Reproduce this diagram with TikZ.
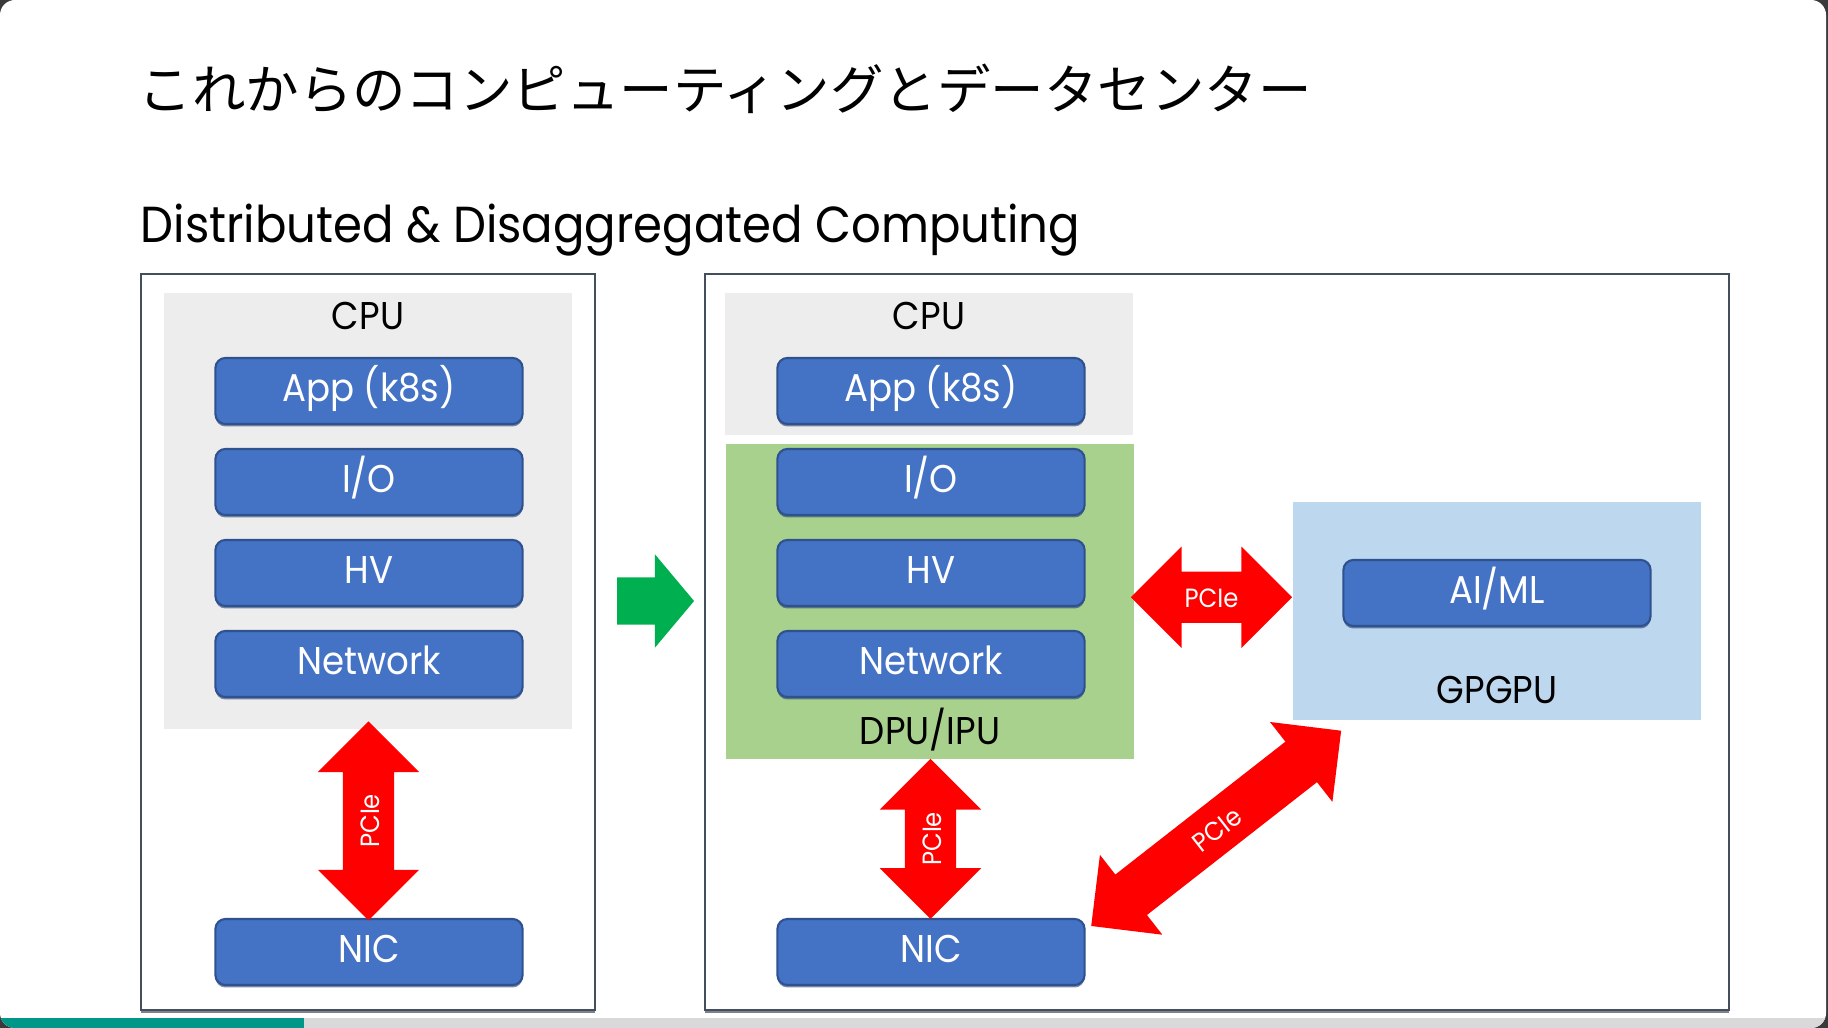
\documentclass[tikz,border=0pt]{standalone}
\usepackage{fontspec}
\setmainfont{Poppins}[FakeStretch=0.92]
\newfontfamily\jpfont{Noto Sans CJK JP}
\usepackage{tikz}
\usetikzlibrary{shapes,arrows,positioning,calc,shadows}
\usepackage{xcolor}
\definecolor{slidedark}{RGB}{58,58,58}
\definecolor{boxblue}{RGB}{68,114,196}
\definecolor{boxblueline}{RGB}{47,82,143}
\definecolor{cpugray}{RGB}{237,237,237}
\definecolor{dpugreen}{RGB}{169,209,142}
\definecolor{gpublue}{RGB}{189,215,238}
\definecolor{pcired}{RGB}{255,0,0}
\definecolor{movegreen}{RGB}{0,176,80}
\definecolor{framegray}{RGB}{68,78,92}
\definecolor{barteal}{RGB}{0,150,136}
\definecolor{bargray}{RGB}{217,217,217}
\tikzstyle{hostframe} = [rectangle, draw=framegray, fill=white, line width=0.6pt, minimum height=7.36cm, inner sep=0pt, drop shadow={shadow xshift=0pt, shadow yshift=-0.9pt, fill=framegray, opacity=0.7}]
\tikzstyle{chipzone} = [rectangle, minimum width=4.07cm, inner sep=0pt]
\tikzstyle{layerbox} = [rectangle, rounded corners=0.1cm, minimum width=3.07cm, minimum height=0.66cm, draw=boxblueline, line width=0.6pt, fill=boxblue, text=white, text height=9pt, text depth=2.8pt, font=\fontsize{11}{13}\selectfont, drop shadow={shadow xshift=0pt, shadow yshift=-0.7pt, fill=boxblueline!80!black, opacity=0.6}]
\tikzstyle{zonelabel} = [font=\fontsize{11}{13}\selectfont]
\tikzstyle{pcielink} = [double arrow, fill=pcired, text=white, double arrow head extend=0.25cm, minimum width=1cm, inner xsep=0pt, inner ysep=4.1pt, text height=6pt, text depth=0pt, font=\fontsize{7.5}{9}\selectfont]

\begin{document}
\begin{tikzpicture}[x=0.01cm, y=-0.01cm]
% slide background
\fill[slidedark] (0,0) rectangle (1828,1028);
\fill[white, rounded corners=0.15cm] (0,0) rectangle (1826,1028);
\begin{scope}
\clip[rounded corners=0.15cm] (0,0) rectangle (1826,1028);
\fill[barteal] (0,1018) rectangle (304,1028);
\fill[bargray] (304,1018) rectangle (1826,1028);
\end{scope}

\node[anchor=west, inner sep=0pt, font=\jpfont\fontsize{15.2}{18}\selectfont] (title) at (138,89) {これからのコンピューティングとデータセンター};
\node[anchor=base west, inner sep=0pt, font=\fontsize{14.4}{17}\selectfont] (subtitle) at (140,243) {Distributed \& Disaggregated Computing};

% today
\node[hostframe, minimum width=4.54cm] (leftframe) at (368,642) {};
\node[chipzone, fill=cpugray, minimum height=4.36cm] (cpuL) at (368,511) {};
\node[zonelabel] at ($(cpuL.center)+(0,-195)$) {CPU};
\node[layerbox] (appL) at ($(cpuL.center)+(1,-120)$) {App (k8s)};
\node[layerbox] (ioL) at ($(cpuL.center)+(1,-29)$) {I/O};
\node[layerbox] (hvL) at ($(cpuL.center)+(1,62)$) {HV};
\node[layerbox] (netL) at ($(cpuL.center)+(1,153)$) {Network};
\node[layerbox] (nicL) at ($(leftframe.center)+(1,310)$) {NIC};
\node[pcielink, minimum height=1.99cm, rotate=90] (pcieL) at ($(cpuL.south)!0.5!(nicL.north)+(0,-3)$) {PCIe};

\node[single arrow, fill=movegreen, single arrow tip angle=100, single arrow head extend=0.23cm, minimum height=0.77cm, minimum width=0.92cm, inner xsep=0pt, inner ysep=0.23cm, anchor=tip] (shift) at (695,601) {};

% disaggregated
\node[hostframe, minimum width=10.24cm] (rightframe) at (1217,642) {};
\node[chipzone, fill=cpugray, minimum height=1.42cm] (cpuR) at (929,364) {};
\node[zonelabel] at ($(cpuR.center)+(0,-48)$) {CPU};
\node[layerbox] (appR) at ($(cpuR.center)+(2,27)$) {App (k8s)};
\node[chipzone, fill=dpugreen, minimum height=3.15cm] (dpu) at (930,601.5) {};
\node[layerbox] (ioR) at ($(dpu.center)+(1,-119.5)$) {I/O};
\node[layerbox] (hvR) at ($(dpu.center)+(1,-28.5)$) {HV};
\node[layerbox] (netR) at ($(dpu.center)+(1,62.5)$) {Network};
\node[zonelabel] at ($(dpu.south)+(0,-30)$) {DPU/IPU};
\node[layerbox] (nicR) at ($(rightframe.center)+(-286,310)$) {NIC};

\node[chipzone, fill=gpublue, minimum height=2.18cm] (gpu) at (1497,611) {};
\node[layerbox] (aiml) at ($(gpu.center)+(0,-18)$) {AI/ML};
\node[zonelabel] at ($(gpu.center)+(0,79)$) {GPGPU};

\node[pcielink, minimum height=1.6cm, rotate=90] (pcieR) at ($(dpu.south)!0.5!(nicR.north)$) {PCIe};
\node[pcielink, minimum height=1.61cm] (pcieH) at ($(dpu.east)!0.5!(gpu.west)+(-2,-9)$) {PCIe};
\node[pcielink, minimum height=3.17cm, rotate=38] (pcieD) at ($(nicR.north east)!0.5!(gpu.south west)+(27,9)$) {PCIe};
\end{tikzpicture}
\end{document}
